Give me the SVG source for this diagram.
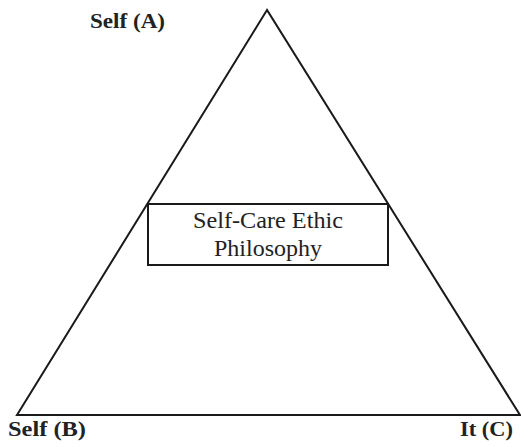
<svg xmlns="http://www.w3.org/2000/svg" width="521" height="447" viewBox="0 0 521 447">
<style>
.lbl{font-family:"Liberation Serif","DejaVu Serif",serif;font-weight:bold;font-size:21px;fill:#222}
.txt{font-family:"Liberation Serif","DejaVu Serif",serif;font-size:23px;fill:#222;text-anchor:middle}
.ln{fill:none;stroke:#1a1a1a;stroke-width:2}
</style>
<rect width="521" height="447" fill="#fff"/>
<g id="connectors">
<polygon class="ln" points="267,10 17,415 520,415"/>
</g>
<g id="box">
<rect class="ln" x="148" y="204" width="240" height="61" style="fill:#fff"/>
<text class="txt" x="268" y="228" textLength="150" lengthAdjust="spacingAndGlyphs">Self-Care Ethic</text>
<text class="txt" x="268" y="256" textLength="108" lengthAdjust="spacingAndGlyphs">Philosophy</text>
</g>
<g id="selfA"><text class="lbl" x="90" y="28" textLength="75" lengthAdjust="spacingAndGlyphs">Self (A)</text></g>
<g id="selfB"><text class="lbl" x="8" y="436" textLength="78" lengthAdjust="spacingAndGlyphs">Self (B)</text></g>
<g id="itC"><text class="lbl" x="460" y="436" textLength="53" lengthAdjust="spacingAndGlyphs">It (C)</text></g>
</svg>
